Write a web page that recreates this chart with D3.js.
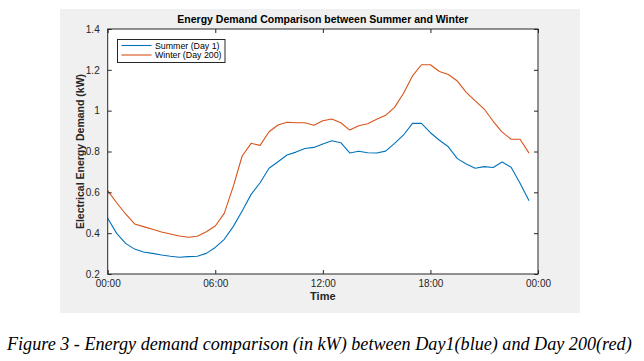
<!DOCTYPE html>
<html>
<head>
<meta charset="utf-8">
<script src="https://cdn.jsdelivr.net/npm/d3@7"></script>
<style>
  html, body { margin: 0; padding: 0; background: #fff; }
  svg { display: block; }
</style>
</head>
<body>
<div class="chart"></div>
<script>
// half-hourly readings, 00:00 .. 23:30
const seriesNames = ['Summer (Day 1)', 'Winter (Day 200)'];
const summerDemand = [0.473, 0.399, 0.350, 0.322, 0.308, 0.301, 0.293, 0.287, 0.282, 0.285, 0.287, 0.301,
  0.330, 0.370, 0.432, 0.509, 0.590, 0.647, 0.718, 0.750, 0.783, 0.797, 0.815, 0.820,
  0.837, 0.853, 0.843, 0.793, 0.801, 0.794, 0.793, 0.802, 0.840, 0.881, 0.938, 0.938,
  0.892, 0.855, 0.823, 0.765, 0.739, 0.718, 0.726, 0.722, 0.749, 0.723, 0.644, 0.559];
const winterDemand = [0.608, 0.549, 0.494, 0.445, 0.432, 0.419, 0.406, 0.396, 0.386, 0.380, 0.385, 0.407,
  0.435, 0.497, 0.628, 0.778, 0.840, 0.830, 0.897, 0.930, 0.943, 0.941, 0.941, 0.929,
  0.951, 0.959, 0.941, 0.905, 0.926, 0.936, 0.958, 0.977, 1.016, 1.085, 1.170, 1.225,
  1.225, 1.192, 1.177, 1.145, 1.090, 1.048, 1.008, 0.948, 0.895, 0.860, 0.860, 0.792];
const xTicks = [0, 6, 12, 18, 24];
const xTickLabels = ['00:00', '06:00', '12:00', '18:00', '00:00'];
const yTicks = [0.2, 0.4, 0.6, 0.8, 1, 1.2, 1.4];

const width = 644, height = 361;
const margin = { top: 29, right: 106, bottom: 87, left: 107.7 };
const colors = ['#0072BD', '#D95319'];
const axisColor = '#262626';
const font = 'Liberation Sans, Arial, Helvetica, sans-serif';

const svg = d3.select('.chart').append('svg')
  .attr('width', width)
  .attr('height', height);

// figure background
svg.append('rect')
  .attr('x', 60).attr('y', 9)
  .attr('width', 520).attr('height', 304)
  .attr('fill', '#f0f0f0');

const x = d3.scaleLinear().domain([0, 24]).range([margin.left, width - margin.right]);
const y = d3.scaleLinear().domain([0.2, 1.4]).range([height - margin.bottom, margin.top]);

svg.append('rect')
  .attr('x', x(0)).attr('y', y(1.4))
  .attr('width', x(24) - x(0)).attr('height', y(0.2) - y(1.4))
  .attr('fill', '#fff');

const line = d3.line()
  .x((d, i) => x(i * 0.5))
  .y(d => y(d));

[summerDemand, winterDemand].forEach((s, k) => {
  svg.append('path')
    .datum(s)
    .attr('d', line)
    .attr('fill', 'none')
    .attr('stroke', colors[k])
    .attr('stroke-width', 1.1)
    .attr('stroke-linejoin', 'round');
});

const tickLen = 4;
function styleAxis(g) {
  g.selectAll('.domain').remove();
  g.selectAll('line').attr('stroke', axisColor);
  g.selectAll('text')
    .attr('fill', axisColor)
    .style('font-family', font)
    .style('font-size', '10px');
}

svg.append('g')
  .attr('transform', `translate(0,${y(0.2)})`)
  .call(d3.axisBottom(x).tickValues(xTicks).tickFormat((d, i) => xTickLabels[i])
    .tickSizeInner(-tickLen).tickSizeOuter(0).tickPadding(6))
  .call(styleAxis);

svg.append('g')
  .attr('transform', `translate(0,${y(1.4)})`)
  .call(d3.axisTop(x).tickValues(xTicks).tickFormat('').tickSizeInner(-tickLen).tickSizeOuter(0))
  .call(styleAxis);

svg.append('g')
  .attr('transform', `translate(${x(0)},0)`)
  .call(d3.axisLeft(y).tickValues(yTicks).tickFormat(d => String(+d.toFixed(1)))
    .tickSizeInner(-tickLen).tickSizeOuter(0).tickPadding(8))
  .call(styleAxis);

svg.append('g')
  .attr('transform', `translate(${x(24)},0)`)
  .call(d3.axisRight(y).tickValues(yTicks).tickFormat('').tickSizeInner(-tickLen).tickSizeOuter(0))
  .call(styleAxis);

// box
svg.append('rect')
  .attr('x', x(0)).attr('y', y(1.4))
  .attr('width', x(24) - x(0)).attr('height', y(0.2) - y(1.4))
  .attr('fill', 'none')
  .attr('stroke', axisColor)
  .attr('stroke-width', 1);

// title and labels
svg.append('text')
  .attr('x', (x(0) + x(24)) / 2).attr('y', 23)
  .attr('text-anchor', 'middle')
  .style('font-family', font).style('font-size', '10.5px').style('font-weight', 'bold')
  .attr('fill', '#000')
  .text('Energy Demand Comparison between Summer and Winter');

svg.append('text')
  .attr('x', (x(0) + x(24)) / 2).attr('y', 300)
  .attr('text-anchor', 'middle')
  .style('font-family', font).style('font-size', '11px').style('font-weight', 'bold')
  .attr('fill', axisColor)
  .text('Time');

svg.append('text')
  .attr('transform', `translate(84,${(y(0.2) + y(1.4)) / 2}) rotate(-90)`)
  .attr('text-anchor', 'middle')
  .style('font-family', font).style('font-size', '10.5px').style('font-weight', 'bold')
  .attr('fill', axisColor)
  .text('Electrical Energy Demand (kW)');

// legend
const legend = svg.append('g').attr('transform', 'translate(117.5,39.5)');
legend.append('rect')
  .attr('width', 107.5).attr('height', 23)
  .attr('fill', '#fff')
  .attr('stroke', axisColor);
seriesNames.forEach((name, i) => {
  const row = legend.append('g').attr('transform', `translate(0,${6 + i * 9.5})`);
  row.append('line')
    .attr('x1', 4).attr('x2', 34)
    .attr('stroke', colors[i]).attr('stroke-width', 1.1);
  row.append('text')
    .attr('x', 37.5).attr('y', 3.2)
    .style('font-family', font).style('font-size', '8.8px')
    .attr('fill', '#000')
    .text(name);
});

// caption
const caption = svg.append('text')
  .attr('x', 7).attr('y', 350)
  .style('font-family', 'Liberation Serif, Times New Roman, serif')
  .style('font-style', 'italic')
  .style('font-size', '19px')
  .attr('fill', '#000')
  .text('Figure 3 - Energy demand comparison (in kW) between Day1(blue) and Day 200(red)');
const capLen = caption.node().getComputedTextLength();
caption.style('font-size', (19 * 625 / capLen).toFixed(2) + 'px');
</script>
</body>
</html>
